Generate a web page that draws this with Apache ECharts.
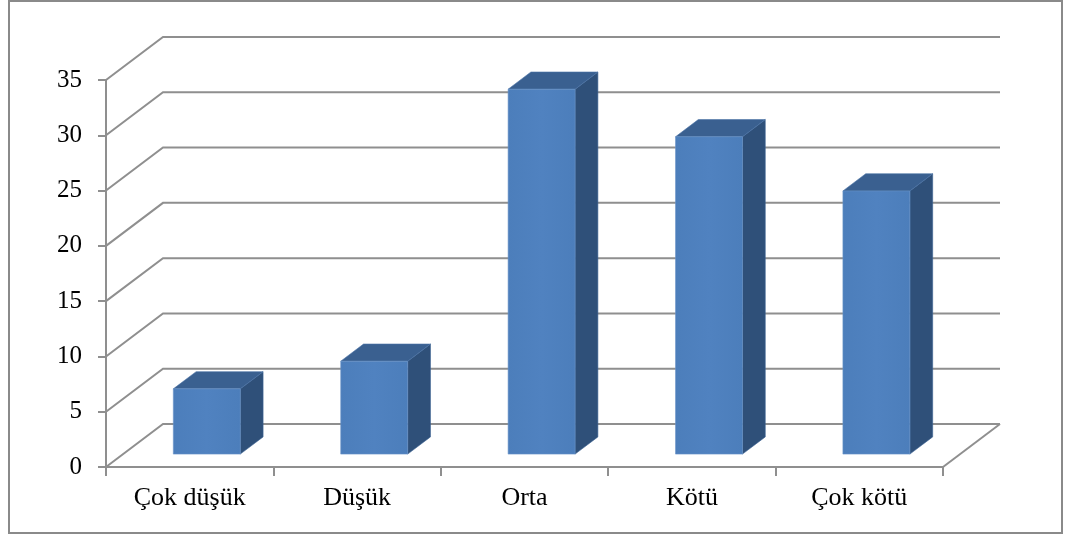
<!DOCTYPE html>
<html>
<head>
<meta charset="utf-8">
<script src="https://cdn.jsdelivr.net/npm/echarts@6/dist/echarts.min.js"></script>
<style>
  html, body { margin: 0; padding: 0; background: #fff; }
  #main { width: 1070px; height: 538px; }
</style>
</head>
<body>
<div id="main"></div>
<script>
// veriler
var categories = ['Çok düşük', 'Düşük', 'Orta', 'Kötü', 'Çok kötü'];
var values = [5.9, 8.4, 33, 28.7, 23.8];
var yTicks = [0, 5, 10, 15, 20, 25, 30, 35];

// 3B görünüm: arka duvarın kaydırması (px)
var DX = 57, DY = 43;
var gridColor = '#8f8f8f';
var font = 'Liberation Serif';

var chart = echarts.init(document.getElementById('main'));

// arka duvar + yan duvar çizgileri
function renderWall(params, api) {
    var cs = params.coordSys;
    var v = api.value(1);
    var y = api.coord([0, v])[1];
    var left = cs.x, right = cs.x + cs.width;
    var children = [{
        type: 'polyline',
        shape: { points: [[left, y], [left + DX, y - DY], [right + DX, y - DY]] },
        style: { stroke: gridColor, lineWidth: 2, fill: null }
    }];
    if (v === 0) {
        children.push({
            type: 'line',
            shape: { x1: right, y1: y, x2: right + DX, y2: y - DY },
            style: { stroke: gridColor, lineWidth: 2 }
        });
    }
    return { type: 'group', children: children };
}

// 3B sütunlar
function renderBar(params, api) {
    var idx = api.value(0);
    var base = api.coord([idx, 0]);
    var top = api.coord([idx, api.value(1)]);
    var bw = api.size([1, 0])[0] * 0.4;
    var fx = base[0] + 0.3 * DX - bw / 2;
    var fy0 = base[1] - 0.3 * DY;
    var fy1 = top[1] - 0.3 * DY;
    var dx = 0.4 * DX, dy = 0.4 * DY;
    return {
        type: 'group',
        children: [{
            type: 'polygon',
            shape: { points: [[fx + bw, fy1], [fx + bw + dx, fy1 - dy], [fx + bw + dx, fy0 - dy], [fx + bw, fy0]] },
            style: { fill: '#2f5079', stroke: '#3d6393', lineWidth: 0.6 }
        }, {
            type: 'polygon',
            shape: { points: [[fx, fy1], [fx + bw, fy1], [fx + bw + dx, fy1 - dy], [fx + dx, fy1 - dy]] },
            style: { fill: '#3a6090', stroke: '#4a72a6', lineWidth: 0.6 }
        }, {
            type: 'rect',
            shape: { x: fx, y: fy1, width: bw, height: fy0 - fy1 },
            style: {
                fill: new echarts.graphic.LinearGradient(0, 0, 1, 0, [
                    { offset: 0, color: '#4c7ebb' },
                    { offset: 0.5, color: '#5082c0' },
                    { offset: 1, color: '#4c7ebb' }
                ]),
                stroke: '#6a94c8', lineWidth: 0.6
            }
        }]
    };
}

var option = {
    animation: false,
    graphic: [{
        type: 'rect',
        shape: { x: 9, y: 1, width: 1053, height: 532 },
        style: { fill: null, stroke: '#8a8a8a', lineWidth: 2 },
        silent: true
    }],
    grid: { left: 106, right: 127, top: 80, bottom: 71 },
    xAxis: {
        type: 'category',
        data: categories,
        axisLine: { lineStyle: { color: gridColor, width: 2 } },
        axisTick: { show: true, length: 9, lineStyle: { color: gridColor, width: 2 } },
        axisLabel: { fontFamily: font, fontSize: 26, color: '#000', margin: 18 },
        splitLine: { show: false }
    },
    yAxis: {
        type: 'value',
        min: 0,
        max: 35,
        interval: 5,
        axisLine: { show: true, lineStyle: { color: gridColor, width: 2 } },
        axisTick: { show: true, length: 8, lineStyle: { color: gridColor, width: 2 } },
        axisLabel: { fontFamily: font, fontSize: 25, color: '#000', margin: 24 },
        splitLine: { show: false }
    },
    series: [{
        type: 'custom',
        clip: false,
        z: 1,
        silent: true,
        renderItem: renderWall,
        data: yTicks.map(function(v) { return [0, v]; })
    }, {
        type: 'custom',
        clip: false,
        z: 3,
        renderItem: renderBar,
        data: values.map(function(v, i) { return [i, v]; })
    }]
};
chart.setOption(option);
</script>
</body>
</html>
